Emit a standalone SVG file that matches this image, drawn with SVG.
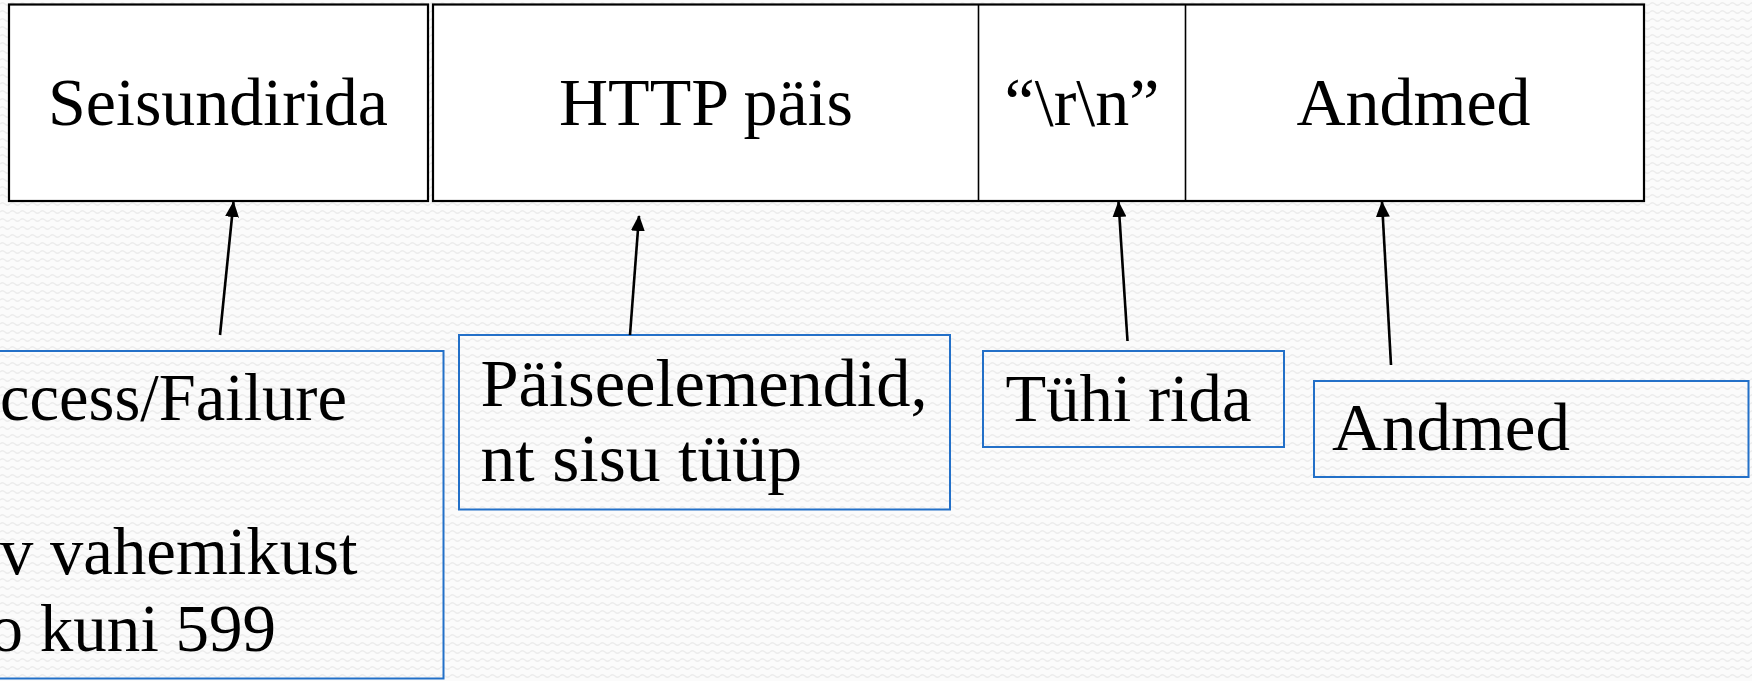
<svg xmlns="http://www.w3.org/2000/svg" width="1752" height="681" viewBox="0 0 1752 681">
  <defs>
    <!-- faint wavy paper texture -->
    <pattern id="waves" width="10" height="8" patternUnits="userSpaceOnUse">
      <path d="M0 4 Q2.5 1.5 5 4 T10 4" fill="none" stroke="#ececec" stroke-width="1.4"/>
    </pattern>
    <marker id="arrow" viewBox="0 0 16 14" refX="15" refY="7" markerWidth="16" markerHeight="14" orient="auto" markerUnits="userSpaceOnUse">
      <path d="M0 0 L16 7 L0 14 Z" fill="#000"/>
    </marker>
    <style>
      .seg { fill: #fff; stroke: #000; stroke-width: 2.2; }
      .div { stroke: #000; stroke-width: 1.6; }
      .note { fill: none; stroke: #2370c8; stroke-width: 2; }
      .big { font-family: "Liberation Serif", "Times New Roman", serif; font-size: 68px; fill: #000; }
      .lbl { font-family: "Liberation Serif", "Times New Roman", serif; font-size: 67px; fill: #000; }
      .conn line { stroke: #000; stroke-width: 2.6; marker-end: url(#arrow); }
    </style>
  </defs>

  <rect width="1752" height="681" fill="#fbfbfb"/>
  <rect width="1752" height="681" fill="url(#waves)"/>

  <!-- message layout: status line, header, blank line, body -->
  <g id="seisundirida">
    <rect class="seg" x="9" y="4.5" width="419" height="196.5"/>
    <text class="big" x="218" y="125" text-anchor="middle">Seisundirida</text>
  </g>
  <g id="http-pais">
    <rect class="seg" x="433" y="4.5" width="1211" height="196.5"/>
    <text class="big" x="706" y="125" text-anchor="middle">HTTP päis</text>
  </g>
  <g id="crlf">
    <line class="div" x1="978.5" y1="4.5" x2="978.5" y2="201"/>
    <text class="big" x="1082" y="125" text-anchor="middle">“\r\n”</text>
  </g>
  <g id="andmed">
    <line class="div" x1="1185.5" y1="4.5" x2="1185.5" y2="201"/>
    <text class="big" x="1413.5" y="125" text-anchor="middle">Andmed</text>
  </g>

  <!-- explanatory notes -->
  <g id="note-status">
    <rect class="note" x="-20" y="351" width="463.5" height="327.5"/>
    <text class="lbl" x="0" y="420" textLength="347" lengthAdjust="spacingAndGlyphs">ccess/Failure</text>
    <text class="lbl" x="0" y="574" textLength="357.5" lengthAdjust="spacingAndGlyphs">v vahemikust</text>
    <text class="lbl" x="-10.5" y="651">o kuni 599</text>
  </g>
  <g id="note-header">
    <rect class="note" x="459" y="335" width="491" height="174.5"/>
    <text class="lbl" x="480.5" y="405.5" font-size="68" textLength="447" lengthAdjust="spacingAndGlyphs">Päiseelemendid,</text>
    <text class="lbl" x="480.5" y="480.5" font-size="68" textLength="321.5" lengthAdjust="spacingAndGlyphs">nt sisu tüüp</text>
  </g>
  <g id="note-blank">
    <rect class="note" x="983" y="351" width="301" height="96"/>
    <text class="lbl" x="1005.5" y="421" font-size="70" textLength="246" lengthAdjust="spacingAndGlyphs">Tühi rida</text>
  </g>
  <g id="note-body">
    <rect class="note" x="1314" y="381" width="434.5" height="96"/>
    <text class="lbl" x="1332" y="450" font-size="71" textLength="238" lengthAdjust="spacingAndGlyphs">Andmed</text>
  </g>

  <!-- arrows from notes up to the segments -->
  <g class="conn" id="connectors">
    <line x1="220" y1="335" x2="233.5" y2="202"/>
    <line x1="630" y1="335" x2="639" y2="216"/>
    <line x1="1127.5" y1="341" x2="1118.5" y2="202"/>
    <line x1="1391" y1="365" x2="1382" y2="202"/>
  </g>
</svg>
